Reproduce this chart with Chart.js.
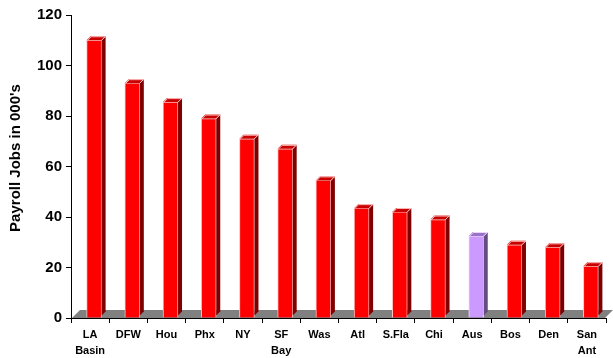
<!DOCTYPE html>
<html>
<head>
<meta charset="utf-8">
<script src="https://cdn.jsdelivr.net/npm/chart.js@4/dist/chart.umd.min.js"></script>
<style>
  html, body { margin: 0; padding: 0; background: #ffffff; }
  #wrap { width: 613px; height: 358px; position: relative; }
</style>
</head>
<body>
<div id="wrap"><canvas id="c" width="613" height="358"></canvas></div>
<script>
// ---- data ----
const categories = [["LA", "Basin"], "DFW", "Hou", "Phx", "NY", ["SF", "Bay"], "Was", "Atl", "S.Fla", "Chi", "Aus", "Bos", "Den", ["San", "Ant"]];
const payrollJobs = [110, 93, 85.5, 79, 71, 67, 54.5, 43.5, 42, 39, 32.5, 29, 28, 20.5];
const highlightCategory = "Aus";
const yTicks = [0, 20, 40, 60, 80, 100, 120];
const yTitle = "Payroll Jobs in 000's";

// ---- styles ----
const FONT = "'Liberation Sans', Arial, sans-serif";
const DEPTH = 4;      // 3D depth of bars
const SHIFT = 4;      // front-face shift within category
const red = { front: '#ff0000', side: '#800000', top: '#c80000', edge: '#ffc0c0' };
const lilac = { front: '#cc99ff', side: '#664c80', top: '#9a72c8', edge: '#eedcff' };
const isHi = (i) => categories[i] === highlightCategory;

const threeD = {
  id: 'threeD',
  beforeDatasetsDraw(chart) {
    const { ctx, chartArea: a } = chart;
    const d = 8;
    ctx.save();
    ctx.fillStyle = '#808080';
    ctx.beginPath();
    ctx.moveTo(a.left + 1, a.bottom);
    ctx.lineTo(a.left + 1 + d, a.bottom - d);
    ctx.lineTo(chart.width, a.bottom - d);
    ctx.lineTo(a.right - 1, a.bottom);
    ctx.closePath();
    ctx.fill();
    ctx.restore();
  },
  beforeDatasetDraw(chart) {
    chart.ctx.save();
    chart.ctx.translate(SHIFT, 0);
  },
  afterDatasetDraw(chart, args) {
    const ctx = chart.ctx;
    ctx.restore();
    const meta = args.meta;
    meta.data.forEach((bar, i) => {
      const c = isHi(i) ? lilac : red;
      const w = bar.width;
      const xl = bar.x - w / 2 + SHIFT;
      const xr = bar.x + w / 2 + SHIFT;
      const top = bar.y;
      const bot = bar.base - 2;
      // side
      ctx.fillStyle = c.side;
      ctx.beginPath();
      ctx.moveTo(xr, top);
      ctx.lineTo(xr + DEPTH, top - DEPTH);
      ctx.lineTo(xr + DEPTH, bot - DEPTH);
      ctx.lineTo(xr, bot);
      ctx.closePath();
      ctx.fill();
      // top
      ctx.fillStyle = c.top;
      ctx.beginPath();
      ctx.moveTo(xl, top);
      ctx.lineTo(xl + DEPTH, top - DEPTH);
      ctx.lineTo(xr + DEPTH, top - DEPTH);
      ctx.lineTo(xr, top);
      ctx.closePath();
      ctx.fill();
      ctx.strokeStyle = c.edge;
      ctx.lineWidth = 1;
      ctx.beginPath();
      ctx.moveTo(xl + 0.5, top + 0.5);
      ctx.lineTo(xl + DEPTH + 0.5, top - DEPTH + 0.5);
      ctx.lineTo(xr + DEPTH, top - DEPTH + 0.5);
      ctx.moveTo(xr - 0.5, top + 0.5);
      ctx.lineTo(xr + DEPTH - 0.5, top - DEPTH + 0.5);
      ctx.stroke();
    });
  },
  afterDraw(chart) {
    const ctx = chart.ctx;
    ctx.save();
    ctx.translate(16, 158);
    ctx.rotate(-Math.PI / 2);
    ctx.font = 'bold 15px ' + FONT;
    ctx.fillStyle = '#000';
    ctx.textAlign = 'center';
    ctx.textBaseline = 'middle';
    ctx.fillText(yTitle, 0, 0);
    ctx.restore();
  }
};

new Chart(document.getElementById('c'), {
  type: 'bar',
  data: {
    labels: categories,
    datasets: [{
      data: payrollJobs,
      backgroundColor: payrollJobs.map((v, i) => isHi(i) ? lilac.front : red.front),
      borderColor: payrollJobs.map((v, i) => isHi(i) ? lilac.edge : red.edge),
      borderWidth: 1,
      borderSkipped: 'bottom',
      barThickness: 15
    }]
  },
  options: {
    responsive: false,
    animation: false,
    devicePixelRatio: 1,
    layout: { padding: { top: 15, right: 7, left: 0, bottom: 0 } },
    plugins: { legend: { display: false }, tooltip: { enabled: false } },
    scales: {
      x: {
        z: 1,
        offset: true,
        grid: { offset: true, drawOnChartArea: false, tickLength: 5, color: '#000', tickColor: '#000' },
        border: { color: '#000', width: 1 },
        ticks: { color: '#000', font: { family: FONT, size: 11, weight: 'bold', lineHeight: 1.45 }, padding: 4, maxRotation: 0, autoSkip: false },
        afterFit(s) { s.height = 40; }
      },
      y: {
        min: 0, max: 120,
        afterBuildTicks(s) { s.ticks = yTicks.map(v => ({ value: v })); },
        grid: { drawOnChartArea: false, tickLength: 5, color: '#000', tickColor: '#000' },
        border: { color: '#000', width: 1 },
        ticks: { color: '#000', font: { family: FONT, size: 15, weight: 'bold' }, padding: 4 },
        afterFit(s) { s.width = 71; }
      }
    }
  },
  plugins: [threeD]
});
</script>
</body>
</html>
